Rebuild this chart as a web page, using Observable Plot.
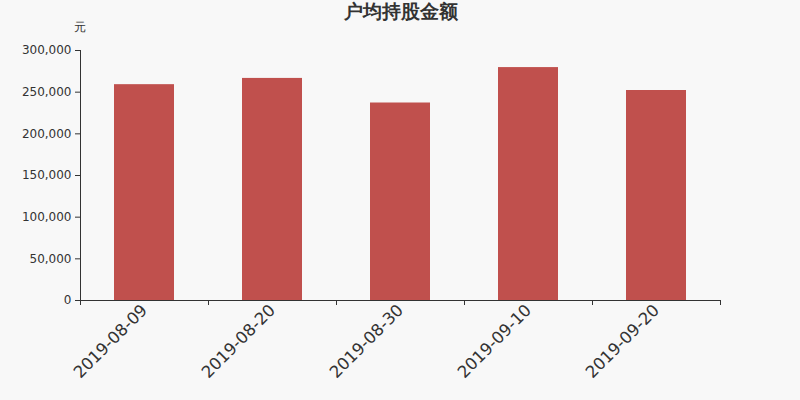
<!DOCTYPE html>
<html>
<head>
<meta charset="utf-8">
<script src="https://cdn.jsdelivr.net/npm/d3@7"></script>
<script src="https://cdn.jsdelivr.net/npm/@observablehq/plot@0.6"></script>
<style>
  html, body { margin: 0; padding: 0; background: #f8f8f8; }
  #chart { width: 800px; height: 400px; }
</style>
</head>
<body>
<div id="chart"></div>
<script>
const dates = ["2019-08-09", "2019-08-20", "2019-08-30", "2019-09-10", "2019-09-20"];
const values = [259000, 266500, 237000, 279500, 252000];
const yTicks = [0, 50000, 100000, 150000, 200000, 250000, 300000];
const title = "户均持股金额";
const unit = "元";

const data = dates.map((d, i) => ({date: d, value: values[i]}));
const fmt = d3.format(",");
const font = "DejaVu Sans, sans-serif";

const chart = Plot.plot({
  width: 800,
  height: 400,
  marginTop: 50,
  marginBottom: 100,
  marginLeft: 80,
  marginRight: 80,
  style: {background: "#f8f8f8", fontFamily: font, color: "#333"},
  x: {domain: dates, paddingInner: 0.53125, paddingOuter: 0.265625},
  y: {domain: [0, 300000]},
  marks: [
    Plot.barY(data, {x: "date", y: "value", fill: "#c0504d"}),
    Plot.axisY({ticks: yTicks, tickFormat: fmt, tickSize: 5, tickPadding: 4, fontSize: 12, fill: "#333", stroke: "#333", label: null}),
    Plot.frame({anchor: "left", stroke: "#333"}),
    Plot.axisX({tickSize: 0, tickPadding: 7, tickRotate: -45, fontSize: 16.5, fill: "#333", label: null}),
    Plot.ruleY([0], {stroke: "#333"}),
    Plot.tickX(dates, {x: d => d, dx: -64, insetTop: 250, insetBottom: -5, stroke: "#333"}),
    Plot.tickX(dates.slice(-1), {x: d => d, dx: 64, insetTop: 250, insetBottom: -5, stroke: "#333"}),
    Plot.text([title], {frameAnchor: "top", dy: -46, fontSize: 19, fontWeight: "bold", fill: "#333"}),
    Plot.text([unit], {frameAnchor: "top-left", dy: -28, dx: -7, fontSize: 12, fill: "#333"})
  ]
});
document.getElementById("chart").appendChild(chart);
</script>
</body>
</html>
